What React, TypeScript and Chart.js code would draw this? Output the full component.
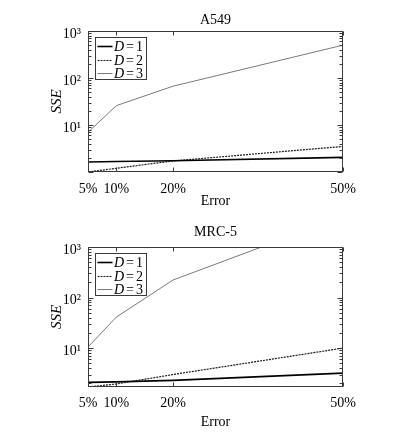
import React, { useEffect, useRef } from 'react';
import { Chart, registerables } from 'chart.js';

Chart.register(...registerables);

// ---- data ----
const errorLevels = [5, 10, 20, 50];
const errorTickLabels = ['5%', '10%', '20%', '50%'];
const seriesDegrees = ['1', '2', '3'];

const a549D1 = [1.63, 1.67, 1.74, 2.05];
const a549D2 = [1.0, 1.2, 1.72, 3.5];
const a549D3 = [7.0, 25.8, 67, 500];

const mrc5D1 = [2.1, 2.15, 2.3, 3.2];
const mrc5D2 = [1.7, 1.95, 3.0, 10];
const mrc5D3 = [10.5, 41, 222, 4000];

const yMajorTicks = [10, 100, 1000];
const yTickLabels = ['10¹', '10²', '10³'];

// ---- styles ----
const SERIF = "'Liberation Serif', 'Times New Roman', serif";
const seriesStyles = [
  { color: '#000000', width: 1.6, dash: [] as number[] },
  { color: '#1a1a1a', width: 1.2, dash: [2, 1] },
  { color: '#7a7a7a', width: 1.0, dash: [] as number[] },
];
const AXIS_COLOR = '#3a3a3a';

type Geom = {
  titlePad: { top: number; bottom: number };
  tickPad: number;
  xHeight: number;
  yMin: number;
};

function makeDecorPlugin() {
  return {
    id: 'decor',
    afterDatasetsDraw(chart: any) {
      const { ctx, chartArea: a, scales } = chart;
      const xs = scales.x;
      const ys = scales.y;
      const L = Math.round(a.left) + 0.5;
      const R = Math.round(a.right) - 0.5;
      const T = Math.round(a.top) + 0.5;
      const B = Math.round(a.bottom) - 0.5;
      ctx.save();
      ctx.strokeStyle = AXIS_COLOR;
      ctx.lineWidth = 1;
      ctx.setLineDash([]);
      ctx.strokeRect(L, T, R - L, B - T);

      // y ticks (major + minor), inward on both sides
      const lo = Math.floor(Math.log10(ys.min));
      const hi = Math.ceil(Math.log10(ys.max));
      ctx.beginPath();
      for (let k = lo; k <= hi; k++) {
        for (let m = 1; m <= 9; m++) {
          const v = m * Math.pow(10, k);
          if (v < ys.min * 0.999 || v > ys.max * 1.001) continue;
          const py = Math.round(ys.getPixelForValue(v)) + 0.5;
          const len = m === 1 ? 5 : 3;
          ctx.moveTo(L, py);
          ctx.lineTo(L + len, py);
          ctx.moveTo(R, py);
          ctx.lineTo(R - len, py);
        }
      }
      // x ticks inward top and bottom
      for (const v of errorLevels) {
        const px = Math.round(xs.getPixelForValue(v)) + 0.5;
        ctx.moveTo(px, B);
        ctx.lineTo(px, B - 4);
        ctx.moveTo(px, T);
        ctx.lineTo(px, T + 4);
      }
      ctx.stroke();

      // legend box
      const bx = Math.round(a.left) + 7.5;
      const by = Math.round(a.top) + 6.5;
      const bw = 51;
      const bh = 42;
      ctx.fillStyle = '#ffffff';
      ctx.fillRect(bx, by, bw, bh);
      ctx.strokeStyle = AXIS_COLOR;
      ctx.lineWidth = 1;
      ctx.strokeRect(bx, by, bw, bh);
      const rowY = [8, 22, 35];
      seriesDegrees.forEach((deg, i) => {
        const st = seriesStyles[i];
        const yy = Math.round(by + rowY[i]) + 0.5;
        ctx.strokeStyle = st.color;
        ctx.lineWidth = st.width;
        ctx.setLineDash(st.dash);
        ctx.beginPath();
        ctx.moveTo(bx + 2, yy);
        ctx.lineTo(bx + 17, yy);
        ctx.stroke();
        ctx.setLineDash([]);
        ctx.fillStyle = '#000';
        ctx.textBaseline = 'middle';
        ctx.textAlign = 'left';
        let tx = bx + 18.5;
        ctx.font = `italic 14px ${SERIF}`;
        ctx.fillText('D', tx, yy + 1);
        tx += ctx.measureText('D').width + 2;
        ctx.font = `14px ${SERIF}`;
        ctx.fillText('=', tx, yy + 1);
        tx += ctx.measureText('=').width + 2;
        ctx.fillText(deg, tx, yy + 1);
      });
      ctx.restore();
    },
  };
}

function makeConfig(title: string, d1: number[], d2: number[], d3: number[], g: Geom): any {
  const series = [d1, d2, d3];
  return {
    type: 'line',
    data: {
      datasets: series.map((vals, i) => ({
        label: 'D=' + seriesDegrees[i],
        data: errorLevels.map((x, j) => ({ x, y: vals[j] })),
        borderColor: seriesStyles[i].color,
        borderWidth: seriesStyles[i].width,
        borderDash: seriesStyles[i].dash,
        pointRadius: 0,
        fill: false,
        tension: 0,
      })),
    },
    options: {
      animation: false,
      responsive: false,
      devicePixelRatio: 1,
      layout: { padding: { left: 40, right: 54, top: 0, bottom: 0 } },
      plugins: {
        legend: { display: false },
        tooltip: { enabled: false },
        title: {
          display: true,
          text: title,
          fullSize: false,
          color: '#000',
          font: { family: SERIF, size: 14, weight: 'normal', lineHeight: 1.2 },
          padding: g.titlePad,
        },
      },
      scales: {
        x: {
          type: 'linear',
          min: 5,
          max: 50,
          grid: { display: false, drawTicks: false },
          border: { display: false },
          afterBuildTicks: (s: any) => {
            s.ticks = errorLevels.map((v) => ({ value: v }));
          },
          afterFit: (s: any) => {
            s.height = g.xHeight;
          },
          ticks: {
            autoSkip: false,
            maxRotation: 0,
            padding: g.tickPad,
            color: '#000',
            font: { family: SERIF, size: 14, lineHeight: 1.2 },
            callback: (_v: any, i: number) => errorTickLabels[i],
          },
          title: {
            display: true,
            text: 'Error',
            color: '#000',
            font: { family: SERIF, size: 14, lineHeight: 1.2 },
            padding: { top: 0, bottom: 5.6 },
          },
        },
        y: {
          type: 'logarithmic',
          min: g.yMin,
          max: 1000,
          grid: { display: false, drawTicks: false },
          border: { display: false },
          afterBuildTicks: (s: any) => {
            s.ticks = yMajorTicks.map((v) => ({ value: v }));
          },
          afterFit: (s: any) => {
            s.width = 48;
          },
          ticks: {
            autoSkip: false,
            padding: 7,
            labelOffset: 3,
            color: '#000',
            font: { family: SERIF, size: 14, lineHeight: 1.2 },
            callback: (_v: any, i: number) => yTickLabels[i],
          },
          title: {
            display: true,
            text: 'SSE',
            color: '#000',
            font: { family: SERIF, size: 15, style: 'italic', lineHeight: 1.2 },
            padding: { top: 8, bottom: 0 },
          },
        },
      },
    },
    plugins: [makeDecorPlugin()],
  };
}

function SSEChart(props: { top: number; height: number; build: () => any }) {
  const ref = useRef<HTMLCanvasElement | null>(null);
  useEffect(() => {
    if (!ref.current) return;
    const chart = new Chart(ref.current, props.build());
    return () => chart.destroy();
  }, []);
  return (
    <div style={{ position: 'absolute', left: 0, top: props.top, width: 397, height: props.height }}>
      <canvas ref={ref} width={397} height={props.height} style={{ display: 'block', width: 397, height: props.height }} />
    </div>
  );
}

export default function App() {
  return (
    <div style={{ position: 'absolute', left: 0, top: 0, width: 397, height: 436, background: '#fff' }}>
      <SSEChart
        top={0}
        height={215}
        build={() =>
          makeConfig('A549', a549D1, a549D2, a549D3, {
            titlePad: { top: 11.6, bottom: 2.6 },
            tickPad: 8.6,
            xHeight: 43,
            yMin: 1,
          })
        }
      />
      <SSEChart
        top={215}
        height={221}
        build={() =>
          makeConfig('MRC-5', mrc5D1, mrc5D2, mrc5D3, {
            titlePad: { top: 9.1, bottom: 6.1 },
            tickPad: 7.6,
            xHeight: 49,
            yMin: 1.7,
          })
        }
      />
    </div>
  );
}
